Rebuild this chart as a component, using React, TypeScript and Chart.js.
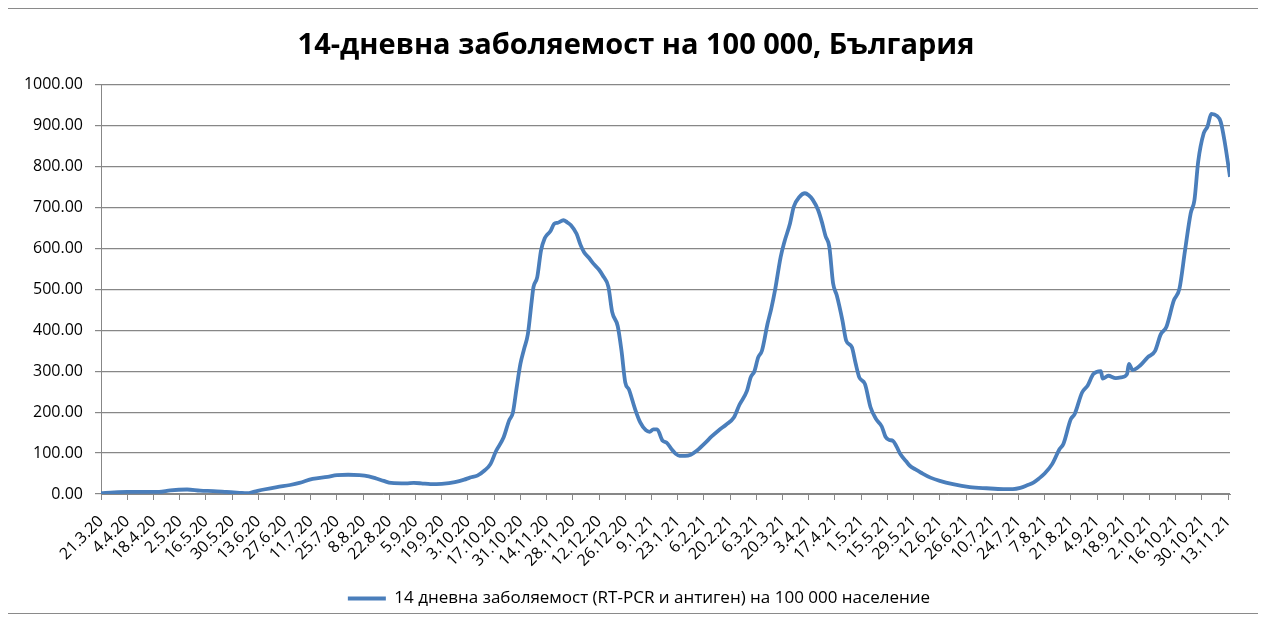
import { useEffect, useRef } from "react";
import { Chart, registerables } from "chart.js";

Chart.register(...registerables);

const titleText = "14-дневна заболяемост на 100 000, България";
const seriesLabel = "14 дневна заболяемост (RT-PCR и антиген) на 100 000 население";

// x tick labels, one every 14 days starting 21.3.20
const xTickLabels = [
  "21.3.20", "4.4.20", "18.4.20", "2.5.20", "16.5.20", "30.5.20", "13.6.20", "27.6.20",
  "11.7.20", "25.7.20", "8.8.20", "22.8.20", "5.9.20", "19.9.20", "3.10.20", "17.10.20",
  "31.10.20", "14.11.20", "28.11.20", "12.12.20", "26.12.20", "9.1.21", "23.1.21", "6.2.21",
  "20.2.21", "6.3.21", "20.3.21", "3.4.21", "17.4.21", "1.5.21", "15.5.21", "29.5.21",
  "12.6.21", "26.6.21", "10.7.21", "24.7.21", "7.8.21", "21.8.21", "4.9.21", "18.9.21",
  "2.10.21", "16.10.21", "30.10.21", "13.11.21",
];

// day index since 21.3.20
const dayIndex = [
  0, 7, 14, 22, 31, 37, 46, 53, 60, 67, 74, 78, 82, 87, 94, 101, 106, 113, 121, 126,
  132, 138, 143, 147, 151, 155, 163, 167, 171, 176, 182, 189, 194, 197, 201, 205, 208, 211, 215, 218,
  220, 222, 224, 226, 228, 230, 231, 233, 235, 237, 238, 240, 242, 244, 247, 249, 251, 254, 256, 258,
  261, 263, 266, 268, 271, 273, 276, 278, 280, 282, 285, 288, 291, 293, 295, 297, 300, 302, 305, 307,
  309, 312, 315, 318, 320, 323, 326, 330, 334, 338, 341, 345, 347, 349, 351, 353, 356, 358, 360, 363,
  365, 368, 370, 373, 376, 378, 380, 383, 385, 387, 389, 391, 393, 396, 398, 401, 403, 405, 408, 411,
  414, 417, 419, 421, 423, 425, 427, 430, 432, 435, 438, 443, 448, 455, 464, 473, 482, 487, 491, 495,
  498, 501, 504, 508, 512, 514, 518, 520, 524, 527, 530, 534, 535, 538, 542, 545, 548, 549, 551, 555,
  559, 563, 566, 569, 573, 576, 579, 582, 584, 586, 589, 591, 593, 596, 598, 600, 603,
];

// 14-day incidence per 100 000
const incidence = [
  2, 4, 5, 5, 5, 9, 11, 8, 7, 5, 3, 2, 6, 11, 17, 22, 27, 37, 42, 46,
  47, 46, 43, 38, 32, 27, 26, 27, 26, 24, 25, 29, 35, 40, 45, 58, 73, 105, 138, 180,
  199, 260, 318, 355, 391, 470, 506, 530, 595, 625, 632, 642, 660, 663, 669, 664, 657, 636, 610, 591,
  575, 563, 548, 534, 506, 445, 410, 350, 273, 255, 211, 175, 156, 152, 158, 158, 130, 126, 108, 98,
  93, 93, 96, 105, 113, 126, 140, 156, 170, 187, 218, 252, 285, 300, 334, 350, 416, 453, 498, 579,
  616, 661, 702, 726, 735, 730, 720, 694, 665, 630, 604, 515, 485, 424, 375, 359, 320, 285, 269, 212,
  183, 165, 140, 132, 130, 115, 97, 80, 69, 60, 52, 40, 32, 24, 17, 14, 12, 12, 15, 22,
  28, 38, 50, 73, 110, 122, 183, 195, 248, 265, 293, 300, 282, 289, 283, 285, 293, 318, 303, 314,
  334, 350, 390, 408, 473, 502, 596, 686, 718, 812, 882, 898, 929, 924, 910, 865, 775,
];

const yTickValues = [0, 100, 200, 300, 400, 500, 600, 700, 800, 900, 1000];

const FONT = "'Open Sans', 'Noto Sans', 'DejaVu Sans', sans-serif";
const LINE_COLOR = "#4A7EBB";
const GRID_COLOR = "#878787";

// centre title and legend on the whole canvas (Excel-like), not on the padded area
const recentrePlugin = {
  id: "recentre",
  afterLayout(chart: any) {
    const w = chart.width;
    if (chart.titleBlock) {
      chart.titleBlock.left = 0;
      chart.titleBlock.right = w + 6;
    }
    if (chart.legend) {
      chart.legend.left = 0;
      chart.legend.right = w + 12;
      chart.legend.top += 4;
      chart.legend.bottom += 4;
    }
  },
};

export default function App() {
  const canvasRef = useRef<HTMLCanvasElement>(null);

  useEffect(() => {
    if (!canvasRef.current) return;
    const chart = new Chart(canvasRef.current, {
      type: "line",
      data: {
        datasets: [
          {
            label: seriesLabel,
            data: dayIndex.map((d, i) => ({ x: d, y: incidence[i] })),
            borderColor: LINE_COLOR,
            backgroundColor: LINE_COLOR,
            borderWidth: 3.8,
            pointRadius: 0,
            pointHoverRadius: 0,
            cubicInterpolationMode: "monotone",
            fill: false,
          },
        ],
      },
      plugins: [recentrePlugin],
      options: {
        animation: false,
        responsive: false,
        maintainAspectRatio: false,
        layout: { padding: { left: 0, right: 28, top: 0, bottom: 0 } },
        plugins: {
          title: {
            display: true,
            text: titleText,
            color: "#000",
            font: { family: FONT, size: 29, weight: "bold" },
            padding: { top: 19, bottom: 22 },
          },
          legend: {
            display: true,
            position: "bottom",
            labels: {
              color: "#000",
              font: { family: FONT, size: 17 },
              boxWidth: 38,
              boxHeight: 4,
              padding: 7,
              generateLabels: (c: any) => {
                const items = Chart.defaults.plugins.legend.labels.generateLabels(c);
                items.forEach((it: any) => {
                  it.lineWidth = 0;
                  it.fillStyle = LINE_COLOR;
                  it.strokeStyle = LINE_COLOR;
                });
                return items;
              },
            },
          },
          tooltip: { enabled: false },
        },
        scales: {
          x: {
            type: "linear",
            min: 0,
            max: 603,
            afterBuildTicks: (axis: any) => {
              axis.ticks = xTickLabels.map((_, i) => ({ value: i * 14 }));
            },
            afterFit: (axis: any) => {
              axis.height = 85;
            },
            ticks: {
              autoSkip: false,
              maxRotation: 45,
              minRotation: 45,
              color: "#000",
              padding: 12,
              font: { family: FONT, size: 16 },
              callback: (v: any) => xTickLabels[Math.round(Number(v) / 14)] ?? "",
            },
            grid: {
              drawOnChartArea: false,
              drawTicks: true,
              tickLength: 6,
              color: GRID_COLOR,
            },
            border: { color: GRID_COLOR, width: 1 },
          },
          y: {
            type: "linear",
            min: 0,
            max: 1000,
            afterBuildTicks: (axis: any) => {
              axis.ticks = yTickValues.map((v) => ({ value: v }));
            },
            afterFit: (axis: any) => {
              axis.width = 93;
            },
            ticks: {
              color: "#000",
              padding: 12,
              font: { family: FONT, size: 16 },
              callback: (v: any) => Number(v).toFixed(2),
            },
            grid: {
              color: GRID_COLOR,
              lineWidth: 1.2,
              tickLength: 6,
            },
            border: { color: GRID_COLOR, width: 1 },
          },
        },
      },
    } as any);
    return () => chart.destroy();
  }, []);

  return (
    <div
      style={{
        width: 1250,
        height: 604,
        border: "1px solid #8a8a8a",
        borderLeftWidth: 2,
        marginLeft: -2,
        background: "#fff",
      }}
    >
      <canvas ref={canvasRef} width={1250} height={604} style={{ display: "block" }} />
    </div>
  );
}
